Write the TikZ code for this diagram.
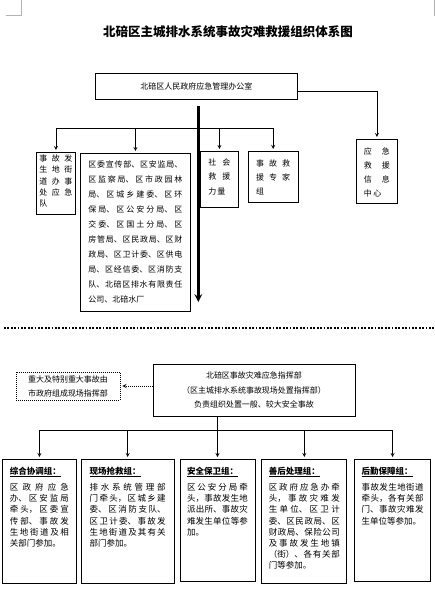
\documentclass[tikz,border=0pt]{standalone}
\usepackage{fontspec}
\setmainfont{Noto Sans CJK SC}
\XeTeXlinebreaklocale "zh"
\XeTeXlinebreakskip=0pt plus 1pt
\usepackage{tikz}
\usetikzlibrary{arrows, positioning}
\tikzstyle{arrow} = [line width=0.8pt,->,>=stealth,shorten >=2pt]
\newcommand{\cjkskip}[1]{\XeTeXlinebreakskip=#1\relax}
\newcommand{\grphead}[1]{\underline{\textbf{#1}}\\[4.8pt]}

\begin{document}
\begin{tikzpicture}[x=1pt, y=-1pt, line width=0.8pt]
    \tikzstyle{box} = [rectangle, draw, anchor=north west, inner ysep=2pt, align=justify]
    \tikzstyle{grp} = [box, text height=13pt, inner xsep=7pt, font=\fontsize{8.5}{11.2}\selectfont\cjkskip{0pt plus 2pt}]
    \tikzstyle{sep} = [line width=1.8pt, dash pattern=on 1.8pt off 1.6pt]
    \tikzstyle{fine} = [line width=0.8pt, dash pattern=on 1pt off 1pt]

    \useasboundingbox (0,0) rectangle (435,590);
    % page corner marks
    \draw[gray!60, line width=0.5pt] (5.7,15.7) -- (21.3,15.7) -- (21.3,0);
    \draw[gray!60, line width=0.5pt] (434.3,0) -- (434.3,16);

    \node[font=\bfseries\fontsize{12.5}{15}\selectfont\cjkskip{2.5pt}] (title) at (228,32) {北碚区主城排水系统事故灾难救援组织体系图};

    % upper part
    \node[draw, minimum width=202pt, minimum height=26pt, font=\fontsize{8}{10}\selectfont\cjkskip{1.7pt}] (office) at (196.3,86) {北碚区人民政府应急管理办公室};
    \node[box, text width=33pt, inner xsep=3pt, text height=7pt, text depth=51pt, font=\fontsize{8}{11.3}\selectfont\cjkskip{1pt plus 8pt}] (evac) at (36,152) {事故发生地街道办事处应急队};
    \node[box, text width=94pt, inner xsep=8pt, text height=12.3pt, text depth=141.7pt, font=\fontsize{8}{15}\selectfont\cjkskip{0pt plus 1pt}] (units) at (80,153) {区委宣传部、区安监局、区监察局、区市政园林局、区城乡建委、区环保局、区公安分局、区交委、区国土分局、区房管局、区民政局、区财政局、区卫计委、区供电局、区经信委、区消防支队、北碚区排水有限责任公司、北碚水厂};
    \node[box, text width=22pt, inner xsep=8pt, text height=12pt, text depth=40pt, font=\fontsize{8}{14.5}\selectfont\cjkskip{1pt plus 8pt}] (social) at (200,151) {社会救援力量};
    \node[box, text width=34pt, inner xsep=8pt, text height=13pt, text depth=34pt, font=\fontsize{8}{14}\selectfont\cjkskip{1pt plus 6pt}, right=9pt of social.north east, anchor=north west] (expert) {事故救援专家组};
    \node[box, text width=26pt, inner xsep=7.5pt, text height=13pt, text depth=47pt, font=\fontsize{8}{14}\selectfont\cjkskip{1.5pt plus 12pt}] (info) at (356,139) {应急救援信息中心};

    \coordinate (bus) at (0,128);
    \coordinate (trunkend) at (198.3,302);
    \draw[line width=2.4pt, ->, >=stealth] ([xshift=2pt, yshift=-7pt]office.south) -- (trunkend);
    \draw (evac.north |- bus) -- (expert.north |- bus);
    \foreach \b in {evac,units,social,expert}
        \draw[arrow] (\b.north |- bus) -- (\b.north);
    \draw[arrow] ([yshift=-5pt]office.east) -| (info.north);

    \draw[sep] (4,328) -- (435,328);

    % lower part
    \node[draw, minimum width=202pt, minimum height=52pt, align=center, font=\fontsize{8}{14.7}\selectfont\cjkskip{1pt}] (cmd) at (254,390) {北碚区事故灾难应急指挥部\\（区主城排水系统事故现场处置指挥部）\\负责组织处置一般、较大安全事故};
    \node[draw, fine, minimum width=104pt, minimum height=28pt, inner sep=2pt, align=center, font=\fontsize{8}{14}\selectfont\cjkskip{1.7pt}] (major) at (68,386) {重大及特别重大事故由\\市政府组成现场指挥部};
    \draw[arrow, fine] (major.east -| cmd.west) -- (major.east);

    \node[grp, text width=59pt, inner xsep=7.5pt, text depth=107pt] (g1) at (2,459) {\grphead{综合协调组：}区政府应急办、区安监局牵头，区委宣传部、事故发生地街道及相关部门参加。};
    \node[grp, text width=76pt, inner xsep=8.5pt, text depth=107pt, right=4pt of g1.north east, anchor=north west] (g2) {\grphead{现场抢救组：}排水系统管理部门牵头，区城乡建委、区消防支队、区卫计委、事故发生地街道及其有关部门参加。};
    \node[grp, text width=61pt, text depth=105pt, right=5pt of g2.north east, anchor=north west] (g3) {\grphead{安全保卫组：}区公安分局牵头，事故发生地派出所、事故灾难发生单位等参加。};
    \node[grp, text width=71pt, text depth=107pt, right=6pt of g3.north east, anchor=north west] (g4) {\grphead{善后处理组：}区政府应急办牵头，事故灾难发生单位、区卫计委、区民政局、区财政局、保险公司及事故发生地镇（街）、各有关部门等参加。};
    \node[grp, text width=62pt, text depth=105pt, right=7pt of g4.north east, anchor=north west] (g5) {\grphead{后勤保障组：}事故发生地街道牵头，各有关部门、事故灾难发生单位等参加。};

    \coordinate (bus2) at (0,430);
    \draw[arrow] (cmd.south -| g3.north) -- (g3.north);
    \draw (g1.north |- bus2) -- (g5.north |- bus2);
    \foreach \g in {g1,g2,g4,g5}
        \draw[arrow] (\g.north |- bus2) -- (\g.north);
\end{tikzpicture}
\end{document}
